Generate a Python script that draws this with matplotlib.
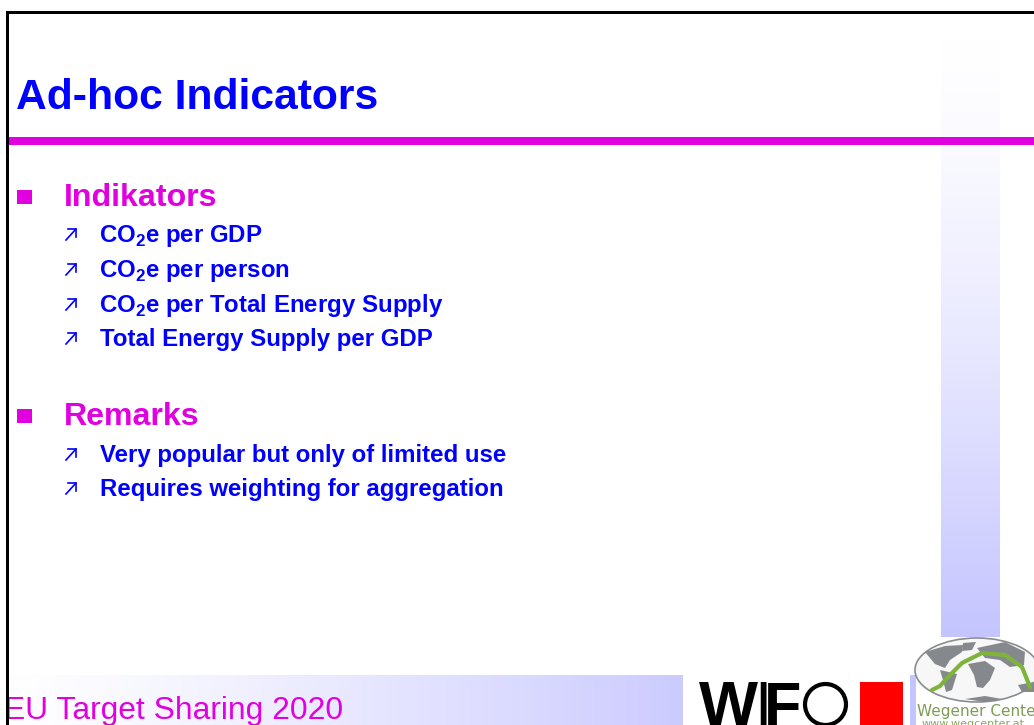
"""
Slide: Ad-hoc Indicators
"""
import numpy as np
import matplotlib.pyplot as plt
from matplotlib.colors import LinearSegmentedColormap
from matplotlib.patches import Rectangle, Ellipse, Polygon

BLUE = '#0000ff'
MAGENTA = '#e000e0'
PALE = '#c4c4ff'

title = 'Ad-hoc Indicators'
footer = 'EU Target Sharing 2020'
heading_1 = 'Indikators'
heading_2 = 'Remarks'
items_1 = ['CO$_{\\mathbf{2}}$e per GDP', 'CO$_{\\mathbf{2}}$e per person',
           'CO$_{\\mathbf{2}}$e per Total Energy Supply', 'Total Energy Supply per GDP']
items_2 = ['Very popular but only of limited use', 'Requires weighting for aggregation']
items_1_y = [234, 269, 304, 338]
items_2_y = [454, 488]

plt.rcParams['font.family'] = ['Liberation Sans', 'DejaVu Sans']
plt.rcParams['mathtext.fontset'] = 'custom'
plt.rcParams['mathtext.bf'] = 'Liberation Sans:bold'
plt.rcParams['mathtext.rm'] = 'Liberation Sans:bold'

fig = plt.figure(figsize=(10.34, 7.25), dpi=100)
ax = fig.add_axes([0, 0, 1, 1])
ax.axis('off')

# gradient bands
ramp = np.linspace(0, 1, 256)
cmap_v = LinearSegmentedColormap.from_list('pale_v', ['#ffffff', PALE], gamma=1.4)
cmap_h = LinearSegmentedColormap.from_list('pale_h', ['#ffffff', '#cccbff'], gamma=1.2)
ax.imshow(ramp[:, None], extent=[941, 1000, 637, 40], origin='upper', cmap=cmap_v, aspect='auto', zorder=1)
ax.imshow(ramp[None, :], extent=[8, 683, 725, 675], cmap=cmap_h, aspect='auto', zorder=1)
ax.add_patch(Rectangle((910, 675), 6, 50, color=PALE, lw=0, zorder=1))
ax.set_xlim(0, 1034)
ax.set_ylim(725, 0)

# frame and rule
ax.add_patch(Rectangle((8, 136.5), 1026, 8, color=MAGENTA, lw=0, zorder=2))
ax.add_patch(Rectangle((0, 640), 6, 85, color='white', lw=0, zorder=4))
ax.add_patch(Rectangle((6, 11), 1028, 2.5, color='black', lw=0, zorder=5))
ax.add_patch(Rectangle((6, 11), 2.5, 714, color='black', lw=0, zorder=5))

ax.text(16, 109, title, color=BLUE, fontsize=30.7, fontweight='bold', va='baseline', zorder=3)

# headings
for y, label in [(206, heading_1), (425, heading_2)]:
    ax.add_patch(Rectangle((17, y - 16), 15, 14, color=MAGENTA, lw=0, zorder=3))
    ax.text(64, y, label, color=MAGENTA, fontsize=23.1, fontweight='bold', va='baseline', zorder=3)

# sub items
for ys, labels in [(items_1_y, items_1), (items_2_y, items_2)]:
    for y, label in zip(ys, labels):
        ax.plot([66, 76], [y + 6, y - 5], color=BLUE, lw=1.2, zorder=3)
        ax.plot([68, 76, 76], [y - 5, y - 5, y + 3], color=BLUE, lw=1.2, zorder=3)
        x = 99 if label.startswith('CO') else 100
        ax.text(x, y + 8, label, color=BLUE, fontsize=17.3, fontweight='bold',
                va='baseline', zorder=3)

ax.text(4, 719, footer, color=MAGENTA, fontsize=22.9, va='baseline', zorder=3)

# WIFO logo
ax.text(699, 725, 'W', color='black', fontsize=45, fontweight='bold', va='baseline', zorder=3)
ax.text(754, 725, 'I', color='black', fontsize=45, va='baseline', zorder=3)
ax.text(764, 725, 'F', color='black', fontsize=44, fontweight='bold', va='baseline', zorder=3)
ax.add_patch(Ellipse((825.5, 704.5), 41, 41, fc='none', ec='black', lw=3, zorder=3))
ax.add_patch(Rectangle((860, 682), 43, 43, color='#ff0000', lw=0, zorder=3))

# Wegener Center logo
ax.add_patch(Rectangle((916, 637), 118, 88, color='white', lw=0, zorder=2))
ax.add_patch(Ellipse((977, 670), 124, 64, fc='#f6f7f6', ec='#8a8d90', lw=1.2, zorder=3))
continents = [
    [(925, 652), (945, 646), (963, 645), (962, 652), (950, 660), (945, 668), (935, 664)],
    [(963, 643), (976, 642), (972, 650), (962, 651)],
    [(940, 670), (957, 674), (952, 690), (946, 692), (943, 680)],
    [(968, 664), (985, 661), (995, 668), (990, 680), (983, 688), (977, 687), (974, 675)],
    [(977, 648), (1005, 642), (1025, 652), (1024, 665), (1010, 667), (1000, 660), (985, 658)],
    [(1018, 685), (1034, 682), (1034, 692), (1022, 692)],
    [(965, 699), (985, 696), (1002, 699), (985, 702)],
]
for shape in continents:
    ax.add_patch(Polygon(shape, closed=True, color='#85888c', lw=0, zorder=4))
ax.plot([932, 940, 948, 962, 982, 1005, 1022, 1030],
        [690, 686, 677, 663, 653, 655, 667, 687],
        color='#7fb43c', lw=3, zorder=5, solid_capstyle='round')
ax.text(917, 716, 'Wegener Cente', color='#7f9c55', fontsize=11, family='DejaVu Sans',
        va='baseline', zorder=4)
ax.text(922, 727, 'www.wegcenter.at', color='#8aa85c', fontsize=8, family='DejaVu Sans',
        va='baseline', zorder=4)

fig.savefig('out.png', dpi=100)
